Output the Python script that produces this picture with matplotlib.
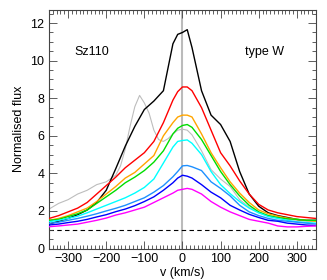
import matplotlib
matplotlib.use("Agg")
import matplotlib.pyplot as plt
from matplotlib.ticker import MultipleLocator

plt.rcParams['font.family'] = ['Liberation Sans', 'DejaVu Sans']

v = [-350, -325, -300, -275, -250, -225, -200, -175, -150, -125, -100, -75, -50, -25,
     -12.5, 0, 12.5, 25, 50, 75, 100, 125, 150, 175, 200, 225, 250, 275, 300, 325, 350]

black = [1.30, 1.45, 1.60, 1.80, 2.05, 2.45, 3.10, 4.25, 5.45, 6.50, 7.40, 7.85, 8.40, 10.90,
         11.40, 11.50, 11.65, 10.70, 8.40, 7.10, 6.60, 5.70, 4.10, 2.90, 2.25, 1.90, 1.75, 1.65, 1.55, 1.50, 1.50]
red = [1.60, 1.75, 1.95, 2.15, 2.45, 2.90, 3.35, 3.80, 4.30, 4.70, 5.10, 5.70, 6.70, 7.90,
       8.35, 8.60, 8.60, 8.40, 7.50, 6.30, 5.10, 4.40, 3.60, 2.90, 2.35, 2.05, 1.90, 1.80, 1.70, 1.65, 1.60]
orange = [1.50, 1.60, 1.75, 1.95, 2.15, 2.50, 2.90, 3.30, 3.75, 4.05, 4.50, 4.95, 6.00, 6.70,
          7.00, 7.10, 7.10, 7.00, 6.10, 5.10, 4.30, 3.55, 2.95, 2.45, 2.05, 1.85, 1.72, 1.62, 1.55, 1.50, 1.45]
green = [1.50, 1.55, 1.70, 1.85, 2.05, 2.40, 2.75, 3.10, 3.50, 3.80, 4.15, 4.60, 5.20, 6.10,
         6.40, 6.55, 6.60, 6.45, 5.80, 4.95, 4.10, 3.40, 2.80, 2.30, 1.95, 1.75, 1.65, 1.58, 1.55, 1.50, 1.50]
cyan = [1.43, 1.50, 1.60, 1.72, 1.90, 2.10, 2.30, 2.50, 2.70, 2.95, 3.25, 3.70, 4.55, 5.40,
        5.70, 5.75, 5.78, 5.60, 5.00, 4.10, 3.40, 2.92, 2.50, 2.15, 1.90, 1.70, 1.60, 1.50, 1.42, 1.38, 1.35]
lightblue = [1.34, 1.40, 1.50, 1.60, 1.72, 1.85, 2.00, 2.14, 2.30, 2.50, 2.70, 3.00, 3.35, 3.82,
             4.10, 4.40, 4.42, 4.35, 4.15, 3.55, 3.20, 2.80, 2.30, 1.95, 1.75, 1.60, 1.50, 1.45, 1.40, 1.35, 1.30]
blue = [1.25, 1.30, 1.38, 1.45, 1.55, 1.68, 1.80, 1.96, 2.10, 2.28, 2.50, 2.75, 3.10, 3.50,
        3.75, 3.90, 3.85, 3.75, 3.40, 3.00, 2.70, 2.30, 2.05, 1.82, 1.65, 1.50, 1.45, 1.35, 1.30, 1.25, 1.22]
magenta = [1.16, 1.20, 1.25, 1.30, 1.40, 1.50, 1.62, 1.78, 1.90, 2.05, 2.20, 2.45, 2.70, 2.95,
           3.10, 3.15, 3.20, 3.15, 2.90, 2.50, 2.20, 1.95, 1.75, 1.55, 1.45, 1.35, 1.20, 1.15, 1.15, 1.18, 1.20]

v_gray = [-350, -325, -300, -275, -250, -225, -200, -175, -162.5, -150, -137.5, -125, -112.5, -100,
          -87.5, -75, -62.5, -50, -37.5, -25, -12.5, 0, 12.5, 25, 50, 75, 100, 125, 150, 175, 200,
          225, 250, 275, 300, 325, 350]
gray = [2.10, 2.40, 2.60, 2.90, 3.10, 3.40, 3.55, 3.90, 4.40, 5.30, 6.50, 7.55, 8.15, 7.75,
        7.20, 6.30, 5.80, 5.70, 5.85, 6.10, 6.30, 6.35, 6.30, 6.05, 5.20, 4.20, 3.70, 3.30, 2.60, 2.20, 1.90,
        1.75, 1.65, 1.55, 1.50, 1.45, 1.45]

fig = plt.figure(figsize=(3.27, 2.80), dpi=100)
ax = fig.add_axes([0.150, 0.1125, 0.816, 0.852])

ax.axvline(0, color='#bbbbbb', lw=1.5, zorder=1)
ax.axhline(1, color='black', lw=0.8, ls=(0, (4, 3)), zorder=1)

ax.plot(v_gray, gray, color='#bdbdbd', lw=0.8, zorder=2)
series = [(black, 'black'), (red, '#ff0000'), (orange, '#ffa500'), (green, '#00dd00'),
          (cyan, '#00ffff'), (lightblue, '#1e90ff'), (blue, '#0000ff'), (magenta, '#ff00ff')]
for y, c in series:
    ax.plot(v, y, color=c, lw=1.0, zorder=3)

ax.set_xlim(-350, 350)
ax.set_ylim(0, 12.7)
ax.xaxis.set_major_locator(MultipleLocator(100))
ax.xaxis.set_minor_locator(MultipleLocator(10))
ax.yaxis.set_major_locator(MultipleLocator(2))
ax.yaxis.set_minor_locator(MultipleLocator(0.5))
ax.tick_params(which='both', direction='in', top=True, right=True, labelsize=9, width=0.6, color='#444444')
ax.tick_params(which='major', length=6)
ax.tick_params(which='minor', length=3)
for s in ax.spines.values():
    s.set_linewidth(0.8)
    s.set_color('#444444')

ax.set_xlabel('v (km/s)', fontsize=9, labelpad=1)
ax.set_ylabel('Normalised flux', fontsize=9, labelpad=4)

ax.text(-284, 10.45, 'Sz110', fontsize=9, va='center', ha='left')
ax.text(163, 10.45, 'type W', fontsize=9, va='center', ha='left')

fig.savefig('out.png', dpi=100)
